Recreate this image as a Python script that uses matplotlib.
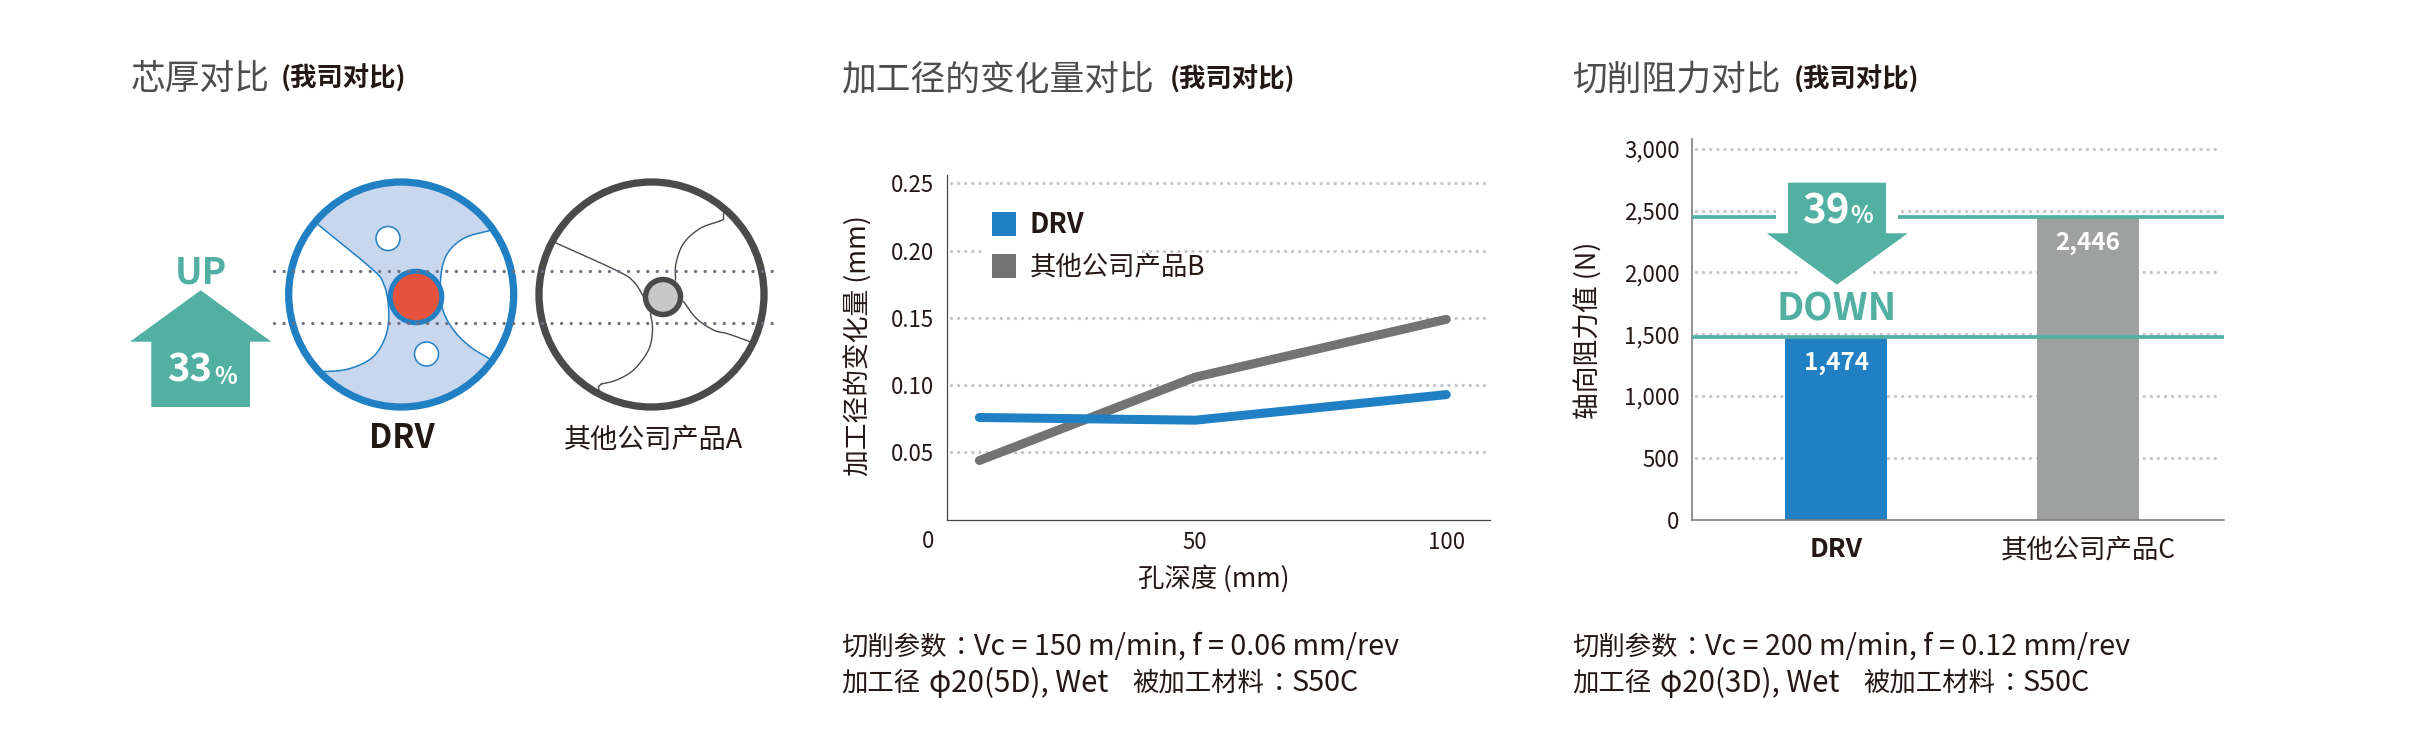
import matplotlib
matplotlib.use("Agg")
import matplotlib.pyplot as plt
import numpy as np
from matplotlib.patches import Circle, Polygon, Rectangle
from matplotlib.ticker import FixedLocator

plt.rcParams["font.family"] = ["Noto Sans CJK SC", "DejaVu Sans"]

WIDTH, HEIGHT = 2435, 742

BLUE = "#2180c4"
TEAL = "#52b0a3"
DARK = "#4a4a4a"
GREY_LINE = "#737373"
TEXT = "#231815"
TITLE = "#4d4d4d"
DOT = "#c8c8c8"

# line chart
DEPTH = [7, 50, 100]
DRV_CHANGE = [0.076, 0.074, 0.093]
OTHER_CHANGE = [0.044, 0.106, 0.149]
DEPTH_TICKS = [50, 100]
CHANGE_TICKS = [0.05, 0.10, 0.15, 0.20, 0.25]

# bar chart
PRODUCTS = ["DRV", "其他公司产品C"]
THRUST = [1474, 2446]
THRUST_TICKS = [0, 500, 1000, 1500, 2000, 2500, 3000]
THRUST_DOWN = 39

# core thickness
CORE_UP = 33


def px(value):
    return value * 0.72


def add_axes_px(fig, left, top, right, bottom):
    return fig.add_axes([left / WIDTH, 1 - bottom / HEIGHT, (right - left) / WIDTH, (bottom - top) / HEIGHT])


def smooth(points, steps=16):
    # catmull-rom through the outline points
    pts = np.array(points, dtype=float)
    pts = np.vstack([2 * pts[0] - pts[1], pts, 2 * pts[-1] - pts[-2]])
    out = []
    for i in range(1, len(pts) - 2):
        p0, p1, p2, p3 = pts[i - 1], pts[i], pts[i + 1], pts[i + 2]
        for t in np.linspace(0, 1, steps, endpoint=False):
            out.append(
                0.5
                * (
                    2 * p1
                    + (p2 - p0) * t
                    + (2 * p0 - 5 * p1 + 4 * p2 - p3) * t**2
                    + (3 * p1 - p0 - 3 * p2 + p3) * t**3
                )
            )
    out.append(pts[-2])
    return np.array(out)


def style_axes(ax, grid_values, spine_color, spine_width):
    ax.spines["top"].set_visible(False)
    ax.spines["right"].set_visible(False)
    for side in ["left", "bottom"]:
        ax.spines[side].set_color(spine_color)
        ax.spines[side].set_linewidth(spine_width)
    ax.hlines(
        grid_values, 0.008, 0.993, transform=ax.get_yaxis_transform(), color=DOT, linewidth=px(3.4),
        linestyle=(0, (0.01, 2.08)), capstyle="round", zorder=1,
    )
    ax.tick_params(length=0, labelsize=16, labelcolor=TEXT)
    ax.patch.set_alpha(0)


def title(over, x_main, x_sub, y, text):
    over.text(x_main, y, text, fontsize=25, color=TITLE, ha="left", va="center")
    over.text(x_sub, y, "(我司对比)", fontsize=19, color=TEXT, weight="bold", ha="left", va="center")


def note(over, x, first, second, third):
    colon = ["Noto Sans CJK TC", "DejaVu Sans"]
    over.text(x, 647, "切削参数", fontsize=19, color=TEXT, ha="left", va="center")
    over.text(x + 119, 647, "：", fontsize=19, color=TEXT, ha="center", va="center", family=colon)
    over.text(x + 132.5, 647, first, fontsize=20.7, color=TEXT, ha="left", va="center")
    over.text(x, 683, "加工径", fontsize=19, color=TEXT, ha="left", va="center")
    over.text(x + 87.5, 683, second, fontsize=21.2, color=TEXT, ha="left", va="center")
    over.text(x + 290.3, 683, "被加工材料", fontsize=19, color=TEXT, ha="left", va="center")
    over.text(x + 437, 683, "：", fontsize=19, color=TEXT, ha="center", va="center", family=colon)
    over.text(x + 450.5, 683, third, fontsize=20.7, color=TEXT, ha="left", va="center")


def draw_cores(over):
    # DRV section
    cx, cy = 401.2, 294.5
    disk = Circle((cx, cy), 112, facecolor="#c8d6ee", edgecolor="none", zorder=2)
    over.add_patch(disk)
    left_flute = smooth(
        [(300, 209), (318, 224.5), (371.5, 268.5), (383.5, 283.5), (388.5, 306.5), (386.5, 333.5),
         (373.5, 356.5), (350, 368.5), (325, 371.5), (300, 370)]
    )
    right_flute = smooth(
        [(510, 227), (490, 230.5), (463.5, 238.5), (446.5, 255), (440.5, 280), (442.5, 308.5),
         (453.5, 330), (470, 346.5), (489, 358.5), (510, 371)]
    )
    for outline, far_x in [(left_flute, 270), (right_flute, 535)]:
        closed = np.vstack([outline, [[far_x, outline[-1][1]], [far_x, outline[0][1]]]])
        flute = Polygon(closed, closed=True, facecolor="white", edgecolor="none", zorder=3)
        over.add_patch(flute)
        flute.set_clip_path(disk)
        edge = over.plot(outline[:, 0], outline[:, 1], color=BLUE, linewidth=1.1, zorder=4)[0]
        edge.set_clip_path(disk)
    for hole in [(388, 238.5), (426.5, 354)]:
        over.add_patch(Circle(hole, 12, facecolor="white", edgecolor=BLUE, linewidth=1.1, zorder=4))
    over.add_patch(Circle((cx, cy), 112.5, facecolor="none", edgecolor=BLUE, linewidth=px(7.3), zorder=5))
    over.add_patch(Circle((416, 297), 25.8, facecolor="#e5533d", edgecolor=BLUE, linewidth=px(5), zorder=5))

    # other product section, outline only
    flutes = [
        [(555, 242.5), (616.5, 270.5), (633.5, 281.5), (643.5, 296.5)],
        [(650.5, 313.5), (652.5, 330), (648.5, 350), (633.5, 370), (616.5, 380), (601.5, 384)],
        [(720, 221), (700, 228.5), (683.5, 243.5), (676, 263.5), (675.5, 280)],
        [(683.5, 301.5), (696.5, 318.5), (713.5, 330), (728.5, 334), (749.5, 341.5)],
    ]
    for points in flutes:
        outline = smooth(points)
        over.plot(outline[:, 0], outline[:, 1], color=DARK, linewidth=1.0, zorder=4)
    # small hooks where two flutes meet the land
    over.plot([601.5, 598.5, 599], [384, 386.5, 391.5], color=DARK, linewidth=1.0, zorder=4)
    over.plot([720, 723.5, 723.5], [221, 219.5, 213.5], color=DARK, linewidth=1.0, zorder=4)
    over.add_patch(Circle((651.5, 294.5), 112.5, facecolor="none", edgecolor=DARK, linewidth=px(7.3), zorder=5))
    over.add_patch(Circle((663, 297), 17.5, facecolor="#c8c8c8", edgecolor=DARK, linewidth=px(5.5), zorder=5))

    for y in [271.3, 322.7]:
        over.plot(
            [273.5, 778], [y, y], color="#6f7080", linewidth=px(3.3),
            linestyle=(0, (0.01, 2.89)), dash_capstyle="round", zorder=6,
        )

    # up arrow
    arrow = [(200.7, 290.3), (271.3, 341.7), (250, 341.7), (250, 407), (151.3, 407), (151.3, 341.7), (130, 341.7)]
    over.add_patch(Polygon(arrow, closed=True, facecolor=TEAL, edgecolor="none", zorder=3))
    over.text(200.7, 273, "UP", fontsize=26.5, color=TEAL, weight="bold", ha="center", va="center")
    over.text(190, 370, f"{CORE_UP}", fontsize=27.5, color="white", weight="bold", ha="center", va="center", zorder=4)
    over.text(226, 377, "%", fontsize=17, color="white", weight="bold", ha="center", va="center", zorder=4)

    over.text(401.7, 438, "DRV", fontsize=23.5, color=TEXT, weight="bold", ha="center", va="center")
    over.text(653.5, 440, "其他公司产品A", fontsize=19.5, color=TEXT, ha="center", va="center")


def draw_line_chart(fig, over):
    ax = add_axes_px(fig, 946.7, 175, 1490, 519.7)
    style_axes(ax, CHANGE_TICKS, "#4a4444", 0.9)
    ax.set_xlim(0.5, 108.7)
    ax.set_ylim(0, 0.2563)
    ax.xaxis.set_major_locator(FixedLocator(DEPTH_TICKS))
    ax.yaxis.set_major_locator(FixedLocator(CHANGE_TICKS))
    ax.set_yticklabels([f"{value:.2f}" for value in CHANGE_TICKS])
    ax.tick_params(axis="y", pad=px(12.5))
    ax.tick_params(axis="x", pad=px(11))
    ax.annotate("0", xy=(0, 0), xytext=(-16, -21.5), textcoords="offset pixels", annotation_clip=False,
                fontsize=16, color=TEXT, ha="center", va="center")

    ax.plot(DEPTH, OTHER_CHANGE, color=GREY_LINE, linewidth=px(9), solid_capstyle="round",
            solid_joinstyle="round", zorder=2)
    ax.plot(DEPTH, DRV_CHANGE, color=BLUE, linewidth=px(9), solid_capstyle="round",
            solid_joinstyle="round", zorder=3)

    ax.set_xlabel("孔深度 (mm)", fontsize=19, color=TEXT)
    ax.xaxis.set_label_coords(1213.5, 578.5, transform=over.transData)
    ax.xaxis.label.set_va("center")
    ax.set_ylabel("加工径的变化量 (mm)", fontsize=19.3, color=TEXT)
    ax.yaxis.set_label_coords(858.5, 346, transform=over.transData)
    ax.yaxis.label.set_va("center")

    # legend sits on a white block that interrupts the 0.20 grid line
    over.add_patch(Rectangle((983, 205), 153.7, 50, facecolor="white", edgecolor="none", zorder=1))
    over.add_patch(Rectangle((991.7, 212.3), 24, 24, facecolor=BLUE, edgecolor="none", zorder=2))
    over.add_patch(Rectangle((991.7, 253.7), 24, 24, facecolor=GREY_LINE, edgecolor="none", zorder=2))
    over.text(1029.3, 225, "DRV", fontsize=19.5, color=TEXT, weight="bold", ha="left", va="center", zorder=3)
    over.text(1029.3, 266.5, "其他公司产品B", fontsize=19, color=TEXT, ha="left", va="center", zorder=3)


def draw_bar_chart(fig, over):
    ax = add_axes_px(fig, 1692, 139.3, 2223.5, 519.6)
    style_axes(ax, THRUST_TICKS[1:], "#807d7d", 1.2)
    positions = np.arange(len(PRODUCTS))
    ax.set_xlim(-0.573, 1.539)
    ax.set_ylim(0, 3077)
    ax.yaxis.set_major_locator(FixedLocator(THRUST_TICKS))
    ax.set_yticklabels([f"{value:,}" for value in THRUST_TICKS])
    ax.tick_params(axis="y", pad=px(12.5))
    ax.set_xticks(positions)
    ax.set_xticklabels(PRODUCTS, fontsize=19)
    ax.tick_params(axis="x", pad=px(16.5))
    ax.get_xticklabels()[0].set_fontweight("bold")

    ax.bar(positions, THRUST, width=0.4066, color=[BLUE, "#9fa0a0"], zorder=2)
    for value in THRUST:
        ax.axhline(value, color=TEAL, linewidth=px(3.7), zorder=3)
    for pos, value in zip(positions, THRUST):
        ax.annotate(f"{value:,}", xy=(pos, value), xytext=(0, -25.5), textcoords="offset pixels",
                    fontsize=17.5, color="white", weight="bold", ha="center", va="center", zorder=4)

    ax.set_ylabel("轴向阻力值 (N)", fontsize=19.3, color=TEXT)
    ax.yaxis.set_label_coords(1589, 330, transform=over.transData)
    ax.yaxis.label.set_va("center")

    # white knock-outs behind the down arrow
    over.add_patch(Rectangle((1776, 205), 122, 22, facecolor="white", edgecolor="none", zorder=1))
    over.add_patch(Rectangle((1798.3, 268), 75, 10, facecolor="white", edgecolor="none", zorder=1))
    arrow = [(1788, 182.7), (1886, 182.7), (1886, 233.3), (1907.7, 233.3), (1837, 284.7), (1766.7, 233.3), (1788, 233.3)]
    over.add_patch(Polygon(arrow, closed=True, facecolor=TEAL, edgecolor="none", zorder=2))
    over.text(1825.3, 212, f"{THRUST_DOWN}", fontsize=29, color="white", weight="bold", ha="center", va="center", zorder=3)
    over.text(1862, 216, "%", fontsize=17, color="white", weight="bold", ha="center", va="center", zorder=3)
    over.text(1837, 309, "DOWN", fontsize=27.5, color=TEAL, weight="bold", ha="center", va="center", zorder=3)


def main():
    fig = plt.figure(figsize=(WIDTH / 100, HEIGHT / 100), dpi=100, facecolor="white")
    over = fig.add_axes([0, 0, 1, 1], zorder=5)
    over.set_xlim(0, WIDTH)
    over.set_ylim(HEIGHT, 0)
    over.axis("off")
    over.patch.set_alpha(0)

    title(over, 131, 281, 79, "芯厚对比")
    title(over, 841, 1170, 80, "加工径的变化量对比")
    title(over, 1572, 1794, 80, "切削阻力对比")

    draw_cores(over)
    draw_line_chart(fig, over)
    draw_bar_chart(fig, over)

    note(over, 841.5, "Vc = 150 m/min, f = 0.06 mm/rev", "φ20(5D), Wet", "S50C")
    note(over, 1572.5, "Vc = 200 m/min, f = 0.12 mm/rev", "φ20(3D), Wet", "S50C")

    fig.savefig("out.png", dpi=100)
    plt.close(fig)


if __name__ == "__main__":
    main()
